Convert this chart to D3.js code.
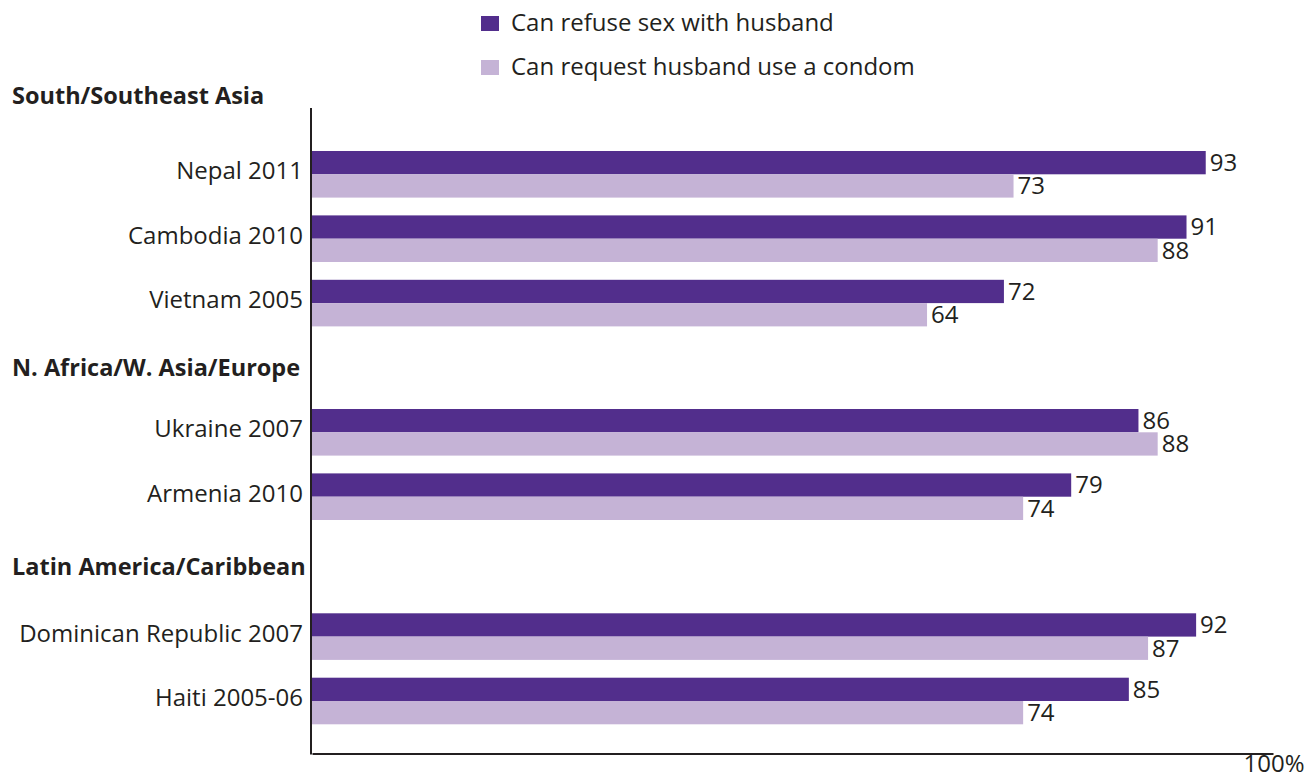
<html>
<head>
<script src="https://d3js.org/d3.v7.min.js"></script>
<style>
  body { margin: 0; background: #fff; }
  text { font-family: "Open Sans", sans-serif; fill: #231f20; }
  .label { font-size: 24px; }
  .header { font-size: 23.5px; font-weight: bold; }
</style>
</head>
<body>
<svg id="chart" width="1310" height="778"></svg>
<script>
const groups = ['South/Southeast Asia', 'N. Africa/W. Asia/Europe', 'Latin America/Caribbean'];
const countries = ['Nepal 2011', 'Cambodia 2010', 'Vietnam 2005', 'Ukraine 2007', 'Armenia 2010', 'Dominican Republic 2007', 'Haiti 2005-06'];
const countryGroup = [0, 0, 0, 1, 1, 2, 2];
const refuseSex = [93, 91, 72, 86, 79, 92, 85];
const requestCondom = [73, 88, 64, 88, 74, 87, 74];
const seriesNames = ['Can refuse sex with husband', 'Can request husband use a condom'];
const seriesColors = ['#522e8c', '#c5b3d6'];

const svg = d3.select('svg#chart');

// extra space that each group header takes
const groupOffset = [0, 64.8, 140.3];
const step = 64.4;
const pad = 1 - 46.6 / step;

const x = d3.scaleLinear().domain([0, 100]).range([312, 1273]);
const y = d3.scaleBand().domain(countries)
  .range([151, 151 + step * (countries.length - pad)])
  .paddingInner(pad).paddingOuter(0);
const sub = d3.scaleBand().domain([0, 1]).range([0, y.bandwidth()]);

const rows = countries.map((c, i) => ({
  name: c,
  group: countryGroup[i],
  values: [refuseSex[i], requestCondom[i]],
  top: y(c) + groupOffset[countryGroup[i]]
}));

// bars
rows.forEach(r => {
  r.values.forEach((v, j) => {
    svg.append('rect')
      .attr('x', x(0))
      .attr('y', r.top + sub(j))
      .attr('width', x(v) - x(0))
      .attr('height', sub.bandwidth())
      .attr('fill', seriesColors[j]);
    svg.append('text')
      .attr('class', 'label')
      .attr('x', x(v) + 4)
      .attr('y', r.top + sub(j) + sub.bandwidth() / 2)
      .attr('dy', '0.35em')
      .text(v);
  });
  svg.append('text')
    .attr('class', 'label')
    .attr('x', 303)
    .attr('y', r.top + sub(1) + 5)
    .attr('text-anchor', 'end')
    .text(r.name);
});

// group headers
groups.forEach((g, gi) => {
  const first = rows.find(r => r.group === gi);
  const prev = rows.filter(r => r.group === gi - 1);
  let cy;
  if (prev.length) {
    const last = prev[prev.length - 1];
    cy = (last.top + y.bandwidth() + first.top) / 2;
  } else {
    cy = first.top - 55;
  }
  svg.append('text')
    .attr('class', 'header')
    .attr('x', 12)
    .attr('y', cy)
    .attr('dy', '0.36em')
    .text(g);
});

// axes
svg.append('line')
  .attr('x1', 311).attr('x2', 311)
  .attr('y1', 108).attr('y2', 754.5)
  .attr('stroke', '#231f20').attr('stroke-width', 2);

const xAxis = d3.axisBottom(x)
  .tickValues([100])
  .tickSize(0)
  .tickSizeOuter(0)
  .tickPadding(1)
  .tickFormat(d => d + '%');

const ax = svg.append('g')
  .attr('transform', 'translate(0,753.5)')
  .call(xAxis);
ax.select('.domain').attr('stroke', '#231f20').attr('stroke-width', 2);
ax.selectAll('text')
  .attr('class', 'label')
  .attr('font-family', null)
  .attr('font-size', null)
  .attr('fill', '#231f20')
  .attr('text-anchor', 'end')
  .attr('dx', 31);

// legend
seriesNames.forEach((s, i) => {
  const ly = 16 + i * 44;
  svg.append('rect')
    .attr('x', 481).attr('y', ly)
    .attr('width', 18).attr('height', 15)
    .attr('fill', seriesColors[i]);
  svg.append('text')
    .attr('class', 'label')
    .attr('x', 511)
    .attr('y', ly + 15)
    .text(s);
});
</script>
</body>
</html>
